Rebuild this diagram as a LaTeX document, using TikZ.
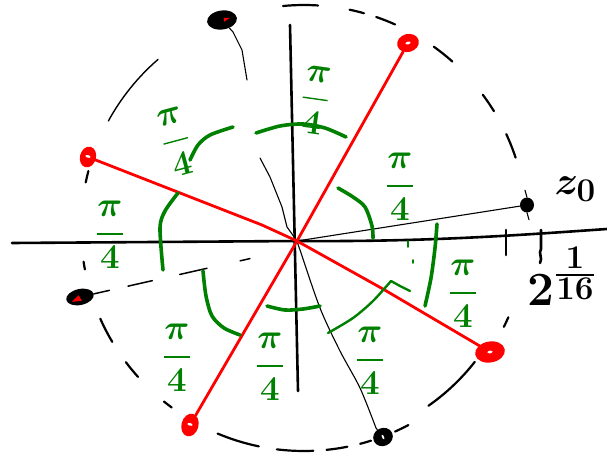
\documentclass[tikz,border=0pt]{standalone}
\usepackage{amsmath}
\usetikzlibrary{positioning,arrows.meta,shapes.geometric,calc}
\definecolor{pigreen}{RGB}{0,128,0}

\begin{document}
\begin{tikzpicture}[
  x=1pt, y=1pt, line cap=round, line join=round,
  axis/.style={line width=2.6pt},
  root/.style={line width=2.8pt, color=red},
  ray/.style={line width=1.1pt},
  ring/.style={line width=2.2pt},
  angarc/.style={line width=3.6pt, color=pigreen},
  blob/.style={ellipse, fill=black, inner sep=0pt},
  rblob/.style={ellipse, fill=red, inner sep=0pt,
    path picture={\fill[white] (path picture bounding box.center) ellipse (2.6pt and 1.3pt);}},
  quarter/.style={text=pigreen, inner sep=0pt, font=\Huge\boldmath, scale=1.4},
  lab/.style={inner sep=0pt, font=\Huge\boldmath, scale=1.6},
]
\useasboundingbox (0,0) rectangle (607,456);

\coordinate (O) at (297,215);
\coordinate (C) at (304,228);
\coordinate (xl) at (12,213);
\coordinate (xr) at (607,227);
\coordinate (yt) at (290,431);
\coordinate (yb) at (298,65);

\foreach \a/\b in {95.4/86.4, 78.2/74.4, 71.1/65.9, 54.4/48.3, 36.7/31.6, 24.9/18.4,
  -23.6/-26.3, -62.1/-65.9, -72.5/-75.4, -78.8/-84.2, -87.6/-97,
  -101.7/-112.8, -126.4/-128.9, -138.1/-143, -149.3/-156, 188.7/190.7, 165.2/168.2}
  \draw[ring] (C) ++(\a:223) arc[start angle=\a, end angle=\b, radius=223];
\draw[ring] (C) ++(-38.1:217) arc[start angle=-38.1, end angle=-55, radius=217];
\draw[ring, line width=1.4pt] (C) ++(151.3:223) arc[start angle=151.3, end angle=130.9, radius=223];

\draw[axis] (xl) -- (O) .. controls (430,214) and (520,221) .. (xr);
\draw[axis] (yt) -- (yb);
\draw[axis] (506,226) -- (506,201);
\draw[axis] (541,226) -- (541,207) .. controls (538,203) and (543,198) .. (540,193);

\node[blob, minimum width=30pt, minimum height=19pt, rotate=8,
  path picture={\fill[red] (path picture bounding box.center) ++(2,2) -- ++(6,-1) -- ++(-6,-3) -- cycle;}] (tl) at (222,436) {};
\node[blob, minimum width=14pt, minimum height=15pt] (z0) at (527,251) {};
\node[blob, minimum width=20pt, minimum height=18pt, rotate=25,
  path picture={\fill[white] (path picture bounding box.center) ellipse (1pt and 2.5pt);}] (bt) at (383,19) {};
\node[blob, minimum width=28pt, minimum height=16pt, rotate=12,
  path picture={\fill[red] (path picture bounding box.center) ++(-9,-3) -- ++(8,5) -- ++(2,-6) -- cycle;}] (lf) at (80,159) {};

\node[rblob, minimum width=22pt, minimum height=18pt, rotate=15] (r1) at (408,413) {};
\node[rblob, minimum width=16pt, minimum height=21pt, rotate=-15] (r2) at (88,299) {};
\node[rblob, minimum width=30pt, minimum height=21pt, rotate=10] (r3) at (490,104) {};
\node[rblob, minimum width=17pt, minimum height=23pt, rotate=-15] (r4) at (190,31) {};

\draw[ray] (O) -- (z0);
\draw[ray] (z0.north) -- ++(-2,7);
\draw[ray] (z0.south) -- ++(2,-7);
\draw[ray] (O) plot[smooth] coordinates {(297,215) (300,206) (320,148) (340,105) (360,68) (376,28)} -- (bt);
\draw[ray] (tl) -- (233,424) -- (242,406) -- (247,376);
\draw[ray] (260,298) -- (270,279) -- (282,249) -- (287,229) -- (O);
\coordinate (lfend) at (257,199);
\draw[ray, line width=1.5pt, dash pattern=on 16pt off 19pt on 25pt off 28pt on 28pt off 34pt on 10pt off 60pt] (lf) -- (lfend);

\draw[root] (r1) -- (O) -- (r4);
\draw[root] (r2) -- (262,231) -- (O) -- (383,167) -- (r3);

\draw[angarc] plot[smooth] coordinates {(256,323) (280,330) (303,332) (325,328) (346,319)};
\draw[angarc] plot[smooth] coordinates {(233,329) (210,321) (198,311) (190,296)};
\draw[angarc] plot[smooth] coordinates {(178,263) (165,245) (160,228) (163,186)};
\draw[angarc] plot[smooth] coordinates {(203,185) (206,160) (212,140) (224,128) (240,121)};
\draw[angarc] plot[smooth] coordinates {(267,150) (285,146) (303,147) (320,150)};
\draw[angarc] plot[smooth] coordinates {(338,268) (353,259) (365,249) (372,230) (373,218)};
\draw[angarc] plot[smooth] coordinates {(437,232) (435,208) (431,178) (425,150)};
\draw[angarc, line width=2.4pt] plot[smooth] coordinates {(328,123) (353,138) (373,155) (391,175)} -- (400,170) -- (410,165);
\draw[angarc, line width=1.6pt] (408,215) -- (408,209) (413,196) -- (413,193);

\node[quarter, rotate=-8] (qtop) at (315,356) {$\dfrac{\pi}{4}$};
\node[quarter, rotate=15] (qul) at (176,314) {$\dfrac{\pi}{4}$};
\node[quarter] (qleft) at (110,221) {$\dfrac{\pi}{4}$};
\node[quarter] (qll) at (177,98) {$\dfrac{\pi}{4}$};
\node[quarter] (qbot) at (270,89) {$\dfrac{\pi}{4}$};
\node[quarter] (qbr) at (370,95) {$\dfrac{\pi}{4}$};
\node[quarter] (qur) at (400,269) {$\dfrac{\pi}{4}$};
\node[quarter] (qlr) at (463,162) {$\dfrac{\pi}{4}$};

\node[lab, right=20pt of z0, yshift=10pt] (z0lab) {$z_0$};
\node[lab, scale=1.2] (rootlab) at (562,180) {$2^{\frac{1}{16}}$};
\end{tikzpicture}
\end{document}
